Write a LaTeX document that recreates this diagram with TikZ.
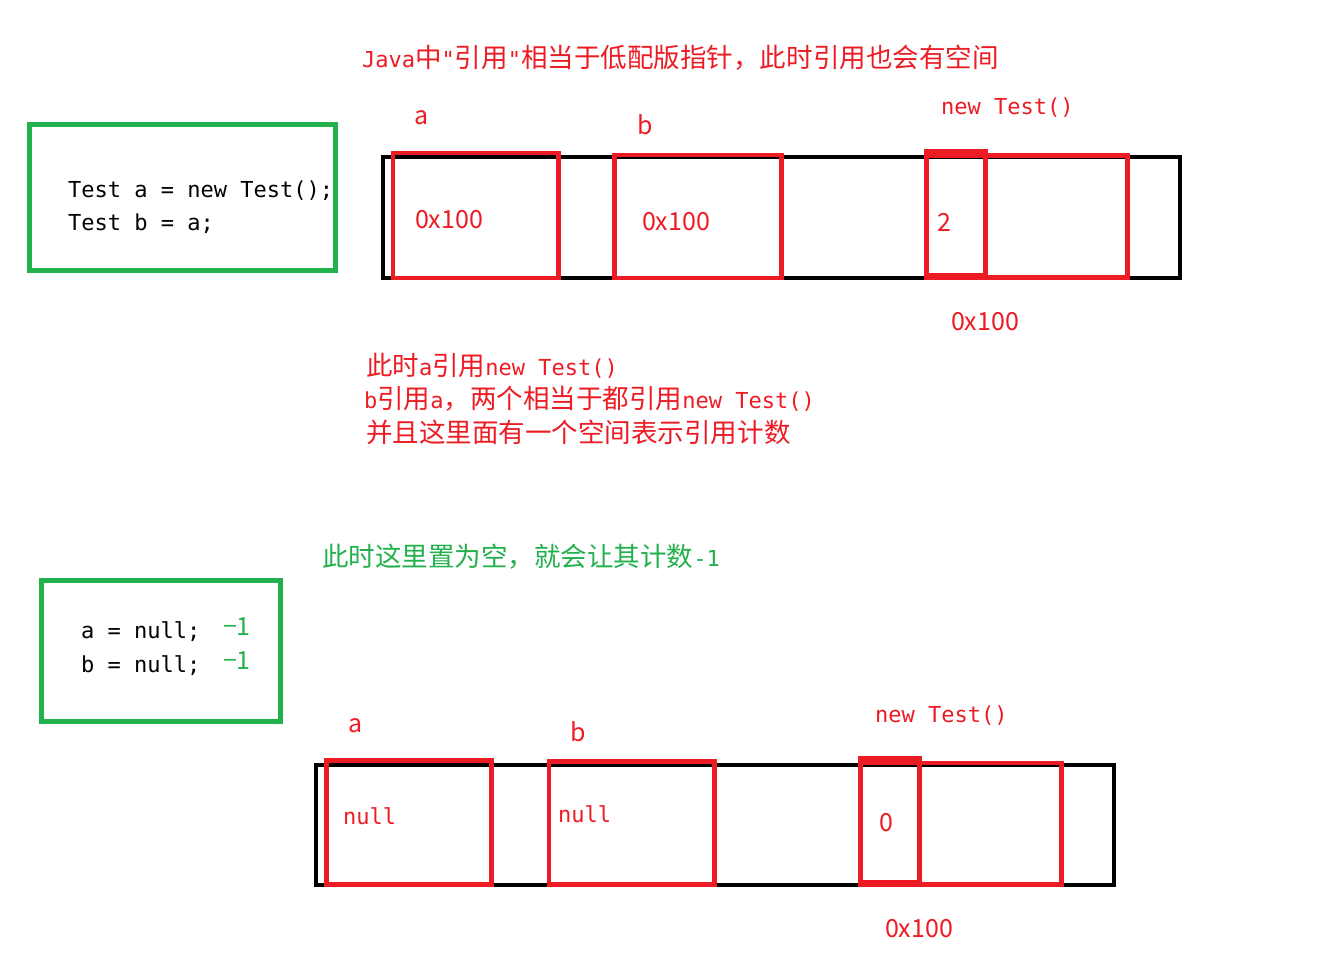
\documentclass[tikz,border=0pt]{standalone}
\usepackage{fontspec}
\setmainfont{DejaVu Sans Mono}[Scale=0.83]
\newfontfamily\plainmono{DejaVu Sans Mono}[Scale=0.83]
\newfontfamily\zhf{Noto Sans CJK SC}
\newcommand\zh[1]{{\zhf #1}}
\newcommand\dq{{\plainmono\char34\relax}}
\definecolor{pred}{HTML}{ED1C24}
\definecolor{pgreen}{HTML}{22B14C}
\tikzset{
  txt/.style={anchor=base west, inner sep=0pt, outer sep=0pt, font=\fontsize{19.9pt}{24pt}\selectfont},
  lbl/.style={anchor=base west, inner sep=0pt, outer sep=0pt, font=\zhf\fontsize{18.75pt}{22pt}\selectfont},
  memrow/.style={draw=black, line width=3pt},
  cell/.style={draw=pred, line width=3.4pt},
  codebox/.style={draw=pgreen, line width=3.75pt},
}
\begin{document}
\begin{tikzpicture}[x=0.75pt,y=-0.75pt]
\useasboundingbox[fill=white] (0,0) rectangle (1336,961);

% ---------- top part ----------
\node[txt, text=pred] (title) at (362,67) {Java\zh{中}\dq\zh{引用}\dq\zh{相当于低配版指针，此时引用也会有空间}};

\draw[codebox] (29.5,124) rectangle (335.5,270);
\node[txt] (code1) at (68,197) {Test a = new Test();};
\node[txt] (code2) at (68,230) {Test b = a;};

\draw[memrow] (383,157) rectangle (1179.5,278);
\draw[cell] (393,153) rectangle (558.5,278);
\draw[cell] (614.5,155) rectangle (781.5,278);
\draw[cell] (926.5,155.5) rectangle (1127.5,277.5);
\draw[cell] (926.5,151) rectangle (985.5,275.5);

\node[lbl, text=pred] (la) at (414,124) {a};
\node[lbl, text=pred] (lb) at (637,134) {b};
\node[txt, text=pred] (newt) at (941,114) {new Test()};
\node[lbl, text=pred] (va) at (415,228) {0x100};
\node[lbl, text=pred] (vb) at (642,230) {0x100};
\node[lbl, text=pred] (cnt) at (937,231) {2};
\node[lbl, text=pred] (addr) at (951,330) {0x100};

\node[txt, text=pred] (n1) at (366,375) {\zh{此时}a\zh{引用}new Test()};
\node[txt, text=pred] (n2) at (364,408) {b\zh{引用}a\zh{，两个相当于都引用}new Test()};
\node[txt, text=pred] (n3) at (366,442) {\zh{并且这里面有一个空间表示引用计数}};

% ---------- bottom part ----------
\node[txt, text=pgreen] (gnote) at (322,566) {\zh{此时这里置为空，就会让其计数}-1};

\draw[codebox] (41.5,580.5) rectangle (280.5,721.5);
\node[txt] (code3) at (81,638) {a = null;};
\node[txt] (code4) at (81,672) {b = null;};
\node[lbl, text=pgreen] (m1) at (223,635) {−1};
\node[lbl, text=pgreen] (m2) at (223,669) {−1};

\draw[memrow] (316,764.5) rectangle (1114,885);
\draw[cell] (326.5,760.5) rectangle (491.5,884.5);
\draw[cell] (549,761.5) rectangle (714.5,884.5);
\draw[cell] (860.5,763) rectangle (1061.5,884.5);
\draw[cell] (860.5,758.5) rectangle (919.5,882);

\node[lbl, text=pred] (la2) at (348,732) {a};
\node[lbl, text=pred] (lb2) at (570,741) {b};
\node[txt, text=pred] (newt2) at (875,722) {new Test()};
\node[txt, text=pred] (va2) at (343,824) {null};
\node[txt, text=pred] (vb2) at (558,822) {null};
\node[lbl, text=pred] (cnt2) at (879,831) {0};
\node[lbl, text=pred] (addr2) at (885,937) {0x100};
\end{tikzpicture}
\end{document}
